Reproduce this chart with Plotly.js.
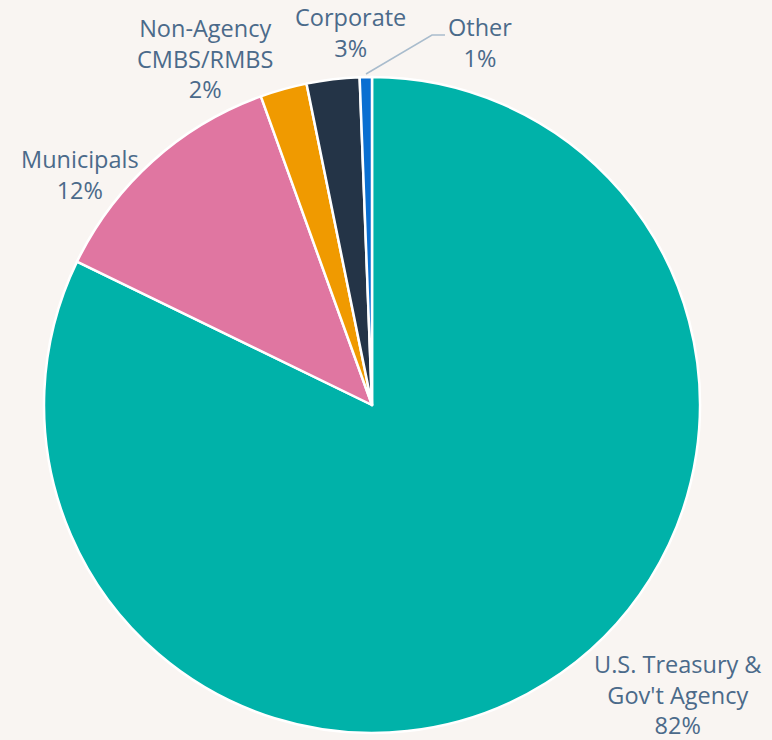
<!DOCTYPE html>
<html>
<head>
<meta charset="utf-8">
<script src="https://cdn.plot.ly/plotly-3.0.1.min.js"></script>
<style>html,body{margin:0;padding:0;background:#f9f5f2;}#chart{width:772px;height:740px;}</style>
</head>
<body>
<div id="chart"></div>
<script>
const categories = ["U.S. Treasury & Gov't Agency", "Municipals", "Non-Agency CMBS/RMBS", "Corporate", "Other"];
const labelLines = ["U.S. Treasury &<br>Gov't Agency", "Municipals", "Non-Agency<br>CMBS/RMBS", "Corporate", "Other"];
const values = [82.2, 12.3, 2.3, 2.6, 0.6];
const colors = ["#00b2a9", "#e076a1", "#f09a00", "#243447", "#0a6fd1"];

// label positions in pixels (layout only)
const labelPos = [[677, 694], [80, 174], [205, 59], [350, 33], [480, 43]];
const W = 772, H = 740;
const txtColor = "#4b6a8a";

const annotations = categories.map((c, i) => ({
  text: labelLines[i] + "<br>" + Math.round(values[i]) + "%",
  x: labelPos[i][0] / W, y: 1 - labelPos[i][1] / H,
  xref: "paper", yref: "paper", xanchor: "center", yanchor: "middle",
  showarrow: false, align: "center",
  font: {family: "'Open Sans', Roboto, sans-serif", size: 23.5, color: txtColor}
}));

const data = [{
  type: "pie",
  labels: categories,
  values: values,
  sort: false,
  direction: "clockwise",
  rotation: 0,
  textinfo: "none",
  hoverinfo: "label+percent",
  marker: {colors: colors, line: {color: "#ffffff", width: 2.5}},
  domain: {x: [44 / W, 700 / W], y: [7 / H, 663 / H]},
  showlegend: false
}];

const layout = {
  width: W, height: H,
  margin: {l: 0, r: 0, t: 0, b: 0},
  paper_bgcolor: "#f9f5f2",
  plot_bgcolor: "#f9f5f2",
  showlegend: false,
  annotations: annotations,
  shapes: [{
    type: "path", xref: "paper", yref: "paper",
    path: "M " + (366 / W) + "," + (1 - 74 / H) + " L " + (432 / W) + "," + (1 - 35 / H) + " L " + (445 / W) + "," + (1 - 35 / H),
    line: {color: "#a9bccd", width: 1.5}
  }]
};

Plotly.newPlot("chart", data, layout, {displayModeBar: false, staticPlot: true});
</script>
</body>
</html>
